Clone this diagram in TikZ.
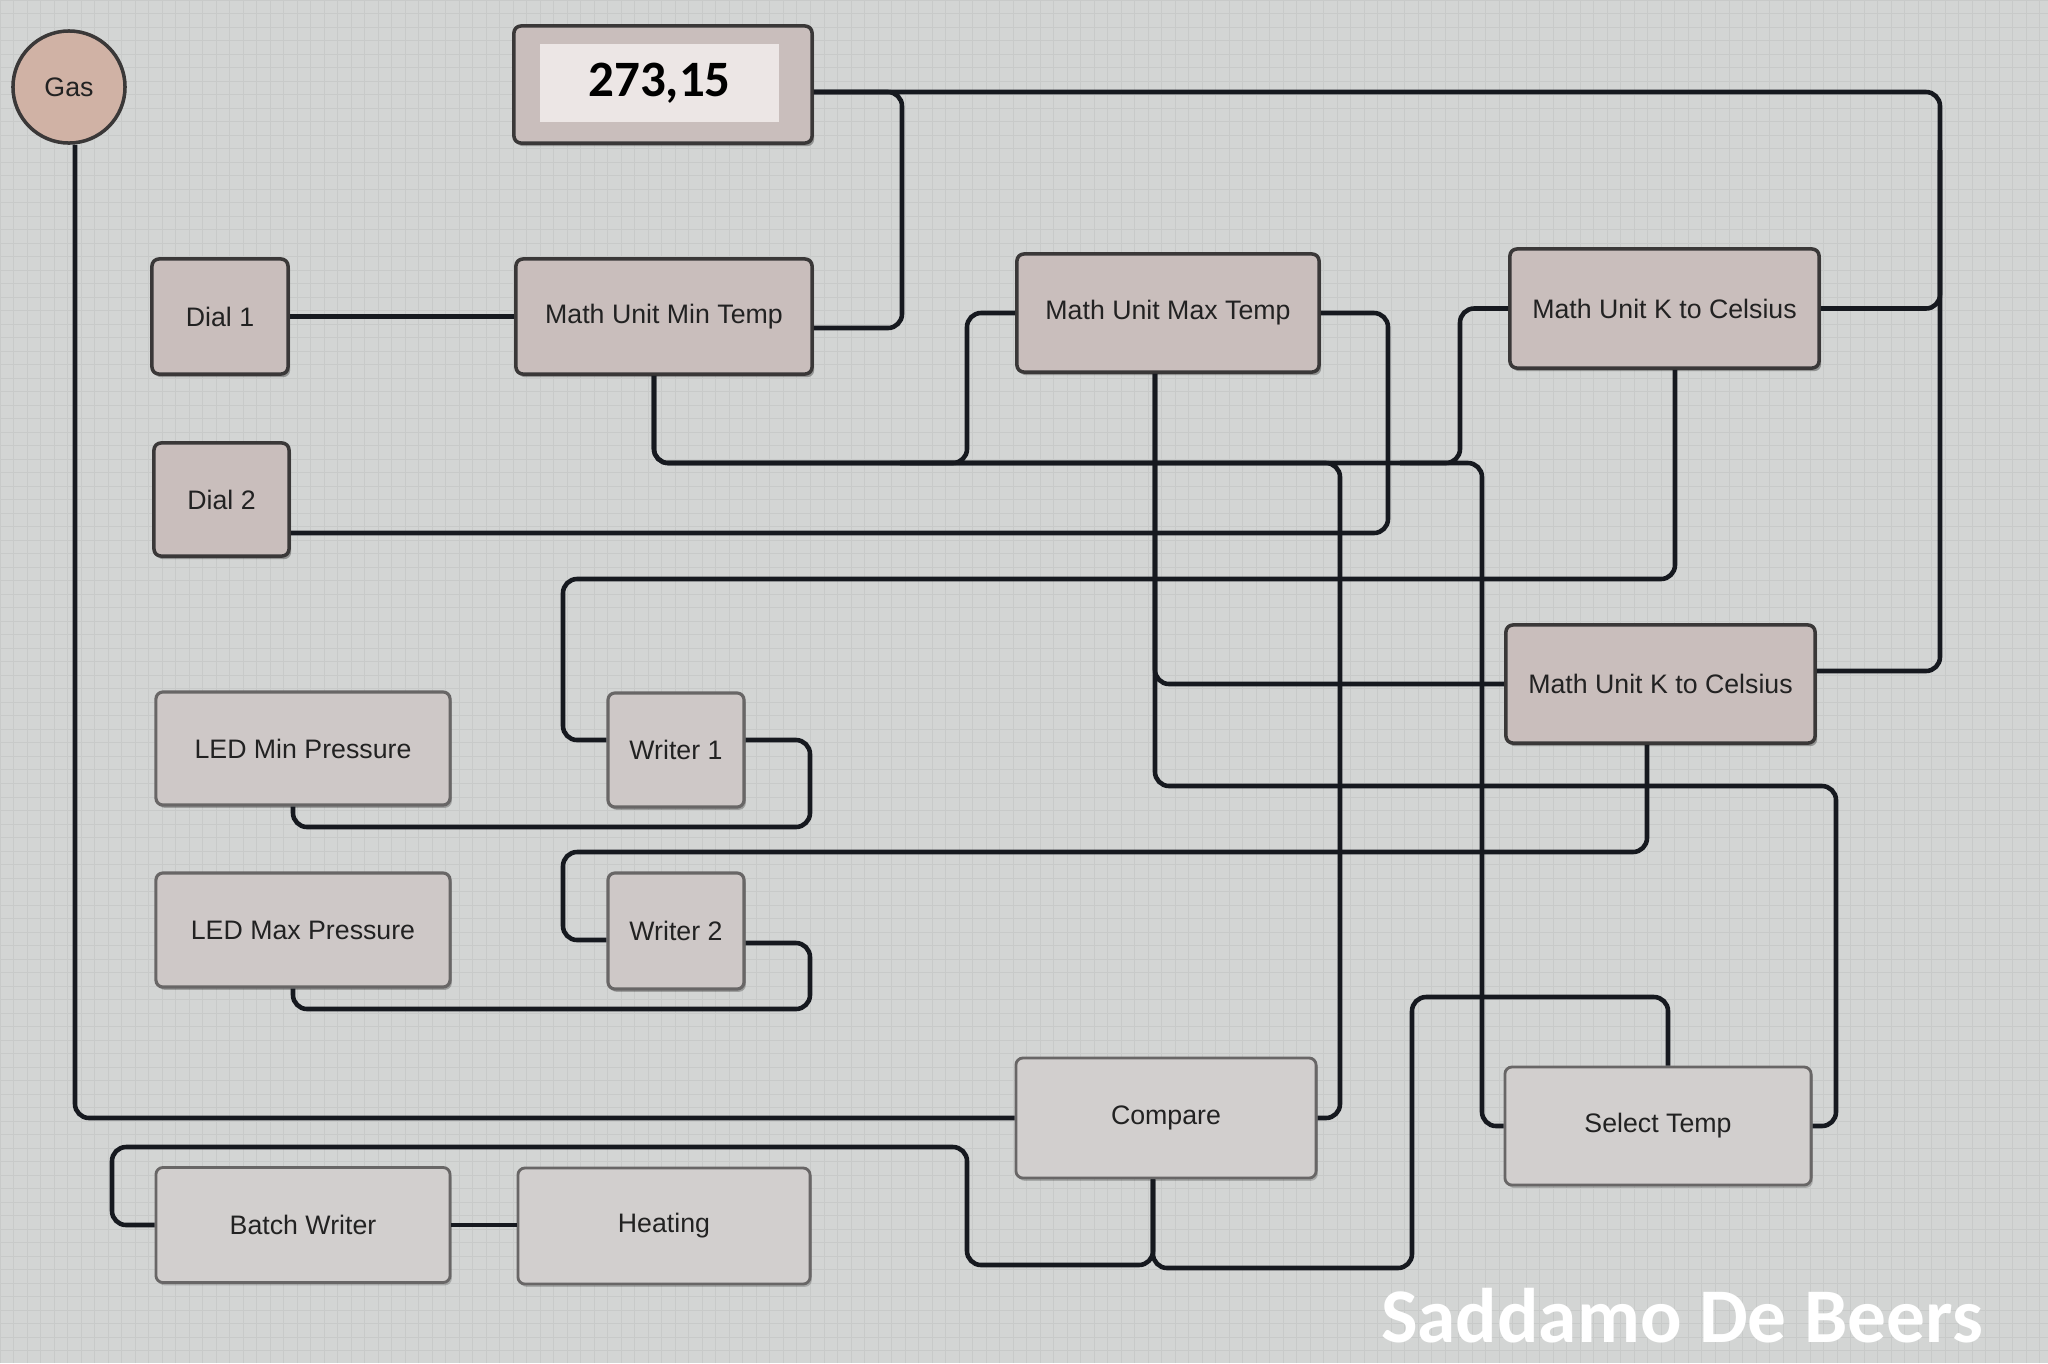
\documentclass[tikz,border=0pt]{standalone}
\usepackage{fontspec}
\setmainfont{Liberation Sans}
\newfontfamily\calibfont{Carlito}
\usetikzlibrary{shadows}
\definecolor{bgc}{HTML}{D3D5D4}
\definecolor{gridc}{HTML}{C8CAC9}
\definecolor{lc}{HTML}{16191F}
\definecolor{upfill}{HTML}{C9BEBC}
\definecolor{midfill}{HTML}{CEC8C7}
\definecolor{lowfill}{HTML}{D2CFCE}
\definecolor{upborder}{HTML}{3A3838}
\definecolor{lowborder}{HTML}{686666}
\definecolor{gasfill}{HTML}{D0B2A5}
\definecolor{tfill}{HTML}{BFB1AE}
\definecolor{tinner}{HTML}{ECE6E5}
\definecolor{txt}{HTML}{222222}
\tikzset{
  conn/.style={draw=lc, line width=1.3pt, rounded corners=4pt},
  sz/.style 2 args={minimum width=#1cm, minimum height=#2cm},
  nbase/.style={rectangle, rounded corners=2pt, inner sep=0pt, align=center,
    font=\fontsize{7.6}{9}\selectfont, text=txt},
  upbox/.style={nbase, fill=upfill, draw=upborder, line width=1pt,
    drop shadow={shadow xshift=0.6pt, shadow yshift=-0.9pt, fill=black, opacity=0.3}},
  midbox/.style={nbase, fill=midfill, draw=lowborder, line width=0.9pt,
    drop shadow={shadow xshift=0.5pt, shadow yshift=-0.8pt, fill=black, opacity=0.25}},
  lowbox/.style={nbase, fill=lowfill, draw=lowborder, line width=0.8pt,
    drop shadow={shadow xshift=0.5pt, shadow yshift=-0.8pt, fill=black, opacity=0.2}},
}
\begin{document}
\begin{tikzpicture}[x=0.01cm, y=-0.01cm]
\useasboundingbox (0,0) rectangle (2048,1363);
\fill[bgc] (0,0) rectangle (2048,1363);
\draw[gridc, line width=0.25pt, step=0.135cm] (0,0) grid (2048,1363);

% nodes
\node[nbase, circle, fill=gasfill, draw=upborder, line width=1pt, minimum size=1.12cm] (gas) at (69,87) {Gas};
\node[upbox, sz={2.98}{1.17}] (t273) at (663,84.5) {};
\node[rectangle, fill=tinner, sz={2.39}{0.78}, inner sep=0pt, font=\calibfont\bfseries\fontsize{14.5}{16}\selectfont] (t273in) at (659.5,83) {273,15};
\node[upbox, sz={1.36}{1.15}] (dial1) at (220,316.5) {Dial 1};
\node[upbox, sz={2.96}{1.15}] (minT) at (664,316.5) {Math Unit Min Temp};
\node[upbox, sz={1.35}{1.13}] (dial2) at (221.5,499.5) {Dial 2};
\node[upbox, sz={3.02}{1.18}] (maxT) at (1168,313) {Math Unit Max Temp};
\node[upbox, sz={3.09}{1.19}] (kc1) at (1664.5,308.5) {Math Unit K to Celsius};
\node[upbox, sz={3.09}{1.18}] (kc2) at (1660.5,684) {Math Unit K to Celsius};
\node[midbox, sz={2.94}{1.13}] (ledmin) at (303,748.5) {LED Min Pressure};
\node[midbox, sz={1.36}{1.14}] (w1) at (676,750) {Writer 1};
\node[midbox, sz={2.94}{1.14}] (ledmax) at (303,930) {LED Max Pressure};
\node[midbox, sz={1.36}{1.16}] (w2) at (676,931) {Writer 2};
\node[lowbox, sz={2.94}{1.15}] (batch) at (303,1225) {Batch Writer};
\node[lowbox, sz={2.92}{1.16}] (heat) at (664,1226) {Heating};
\node[lowbox, sz={3.00}{1.20}] (cmp) at (1166,1118) {Compare};
\node[lowbox, sz={3.06}{1.18}] (sel) at (1658,1126) {Select Temp};

% connectors
\draw[conn] (gas.south -| 75,0) |- (cmp.west);
\draw[conn] (t273.east |- 0,92) -- (1940,92) -- (1940,671) -- (kc2.east |- 0,671);
\draw[conn] (kc1.east) -| (1940,150);
\draw[conn] (t273.east |- 0,92) -- (902,92) -- (902,328) -- (minT.east |- 0,328);
\draw[conn] (dial1.east) -- (minT.west);
\draw[conn] (minT.south -| 654,0) |- (1340,463) |- (cmp.east);
\draw[conn] (minT.south -| 654,0) |- (1482,463) |- (sel.west);
\draw[conn] (maxT.west) -| (967,463) -- (900,463);
\draw[conn] (kc1.west) -| (1460,463) -- (1400,463);
\draw[conn] (maxT.east) -| (1388,533) -- (dial2.east |- 0,533);
\draw[conn] (kc1.south -| 1675,0) |- (563,579) |- (w1.west |- 0,740);
\draw[conn] (w1.east |- 0,740) -| (810,827) -| (ledmin.south -| 293,0);
\draw[conn] (w2.west |- 0,940) -| (563,852) -| (kc2.south -| 1647,0);
\draw[conn] (w2.east |- 0,943) -| (810,1009) -| (ledmax.south -| 293,0);
\draw[conn] (maxT.south -| 1155,0) |- (kc2.west);
\draw[conn] (maxT.south -| 1155,0) |- (1836,786) |- (sel.east);
\draw[conn] (cmp.south -| 1153,0) |- (1412,1268) -- (1412,997) -| (sel.north -| 1668,0);
\draw[conn] (cmp.south -| 1153,0) |- (967,1265) -- (967,1147) -- (112,1147) |- (batch.west);
\draw[conn] (batch.east) -- (heat.west |- batch.east);

% watermark
\node[text=white, font=\calibfont\bfseries\fontsize{22}{24}\selectfont, anchor=center] (wm) at (1682,1316) {Saddamo De Beers};
\end{tikzpicture}
\end{document}
